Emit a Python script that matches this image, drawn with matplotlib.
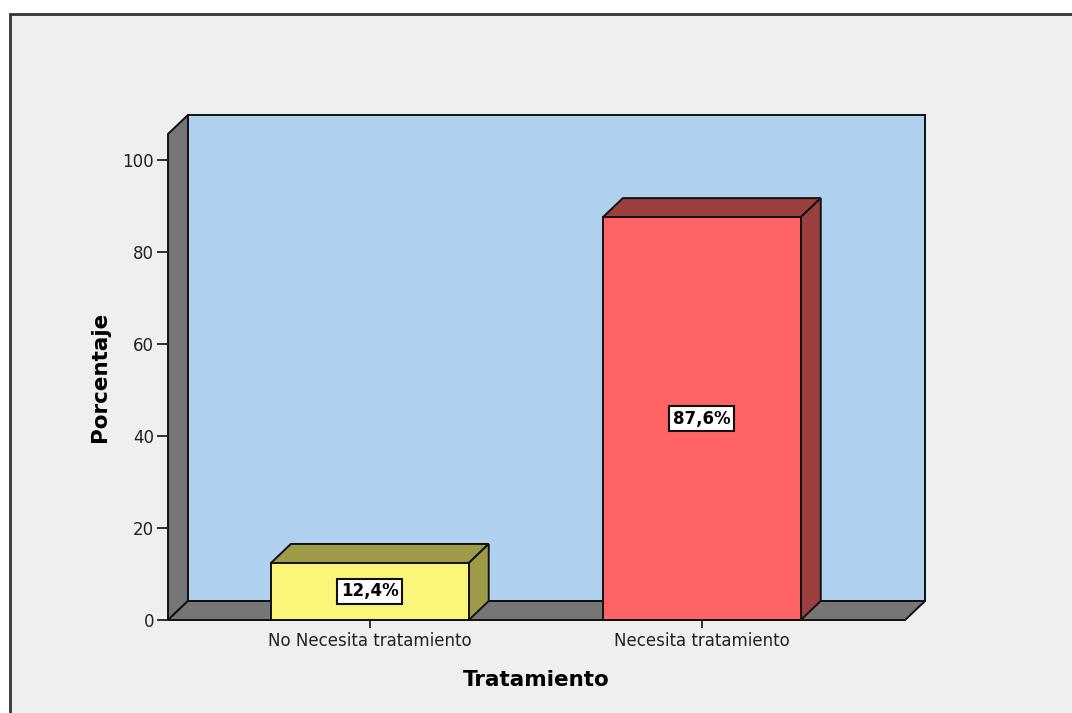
import matplotlib
matplotlib.use("Agg")
import matplotlib.pyplot as plt
from matplotlib.patches import Polygon, Rectangle

# Data
categories = ["No Necesita tratamiento", "Necesita tratamiento"]
percentages = [12.4, 87.6]
value_labels = ["12,4%", "87,6%"]
y_ticks = [0, 20, 40, 60, 80, 100]

# Colors
front_colors = ["#faf679", "#ff6464"]
shade_colors = ["#9d9a48", "#9c3f3f"]
wall_color = "#afd0ee"
side_wall_color = "#767676"
panel_color = "#efefef"

W, H = 1072, 713
fig = plt.figure(figsize=(W / 100, H / 100), dpi=100)
fig.patch.set_facecolor("white")

# outer gray panel with dark border
fig.patches.append(Rectangle((10 / W, -0.05), 1.2, 1.05 - 14 / H, transform=fig.transFigure,
                             facecolor=panel_color, edgecolor="#333333", lw=2, zorder=-10))

ax = fig.add_axes([168 / W, 93 / H, (925 - 168) / W, (620 - 115) / H])
ax.set_facecolor("none")
ax.set_zorder(5)

# pseudo-3d geometry
x0, x1 = -0.608, 1.672
ymax = 109.8
dx, dy = 0.060, 4.13
bar_w = 0.596
ax.set_xlim(x0, x1)
ax.set_ylim(0, ymax)

edge = dict(edgecolor="#111111", lw=1.4, clip_on=False)

# back wall, left wall, floor
ax.add_patch(Rectangle((x0 + dx, dy), x1 - x0 - dx, ymax - dy, facecolor=wall_color, zorder=1, **edge))
ax.add_patch(Polygon([(x0, 0), (x0, ymax - dy), (x0 + dx, ymax), (x0 + dx, dy)],
                     facecolor=side_wall_color, zorder=1, **edge))
ax.add_patch(Polygon([(x0, 0), (x0 + dx, dy), (x1, dy), (x1 - dx, 0)],
                     facecolor=side_wall_color, zorder=1, **edge))

# bars
for i, v in enumerate(percentages):
    l, r = i - bar_w / 2, i + bar_w / 2
    ax.add_patch(Polygon([(l, v), (l + dx, v + dy), (r + dx, v + dy), (r, v)],
                         facecolor=shade_colors[i], zorder=3, **edge))
    ax.add_patch(Polygon([(r, 0), (r + dx, dy), (r + dx, v + dy), (r, v)],
                         facecolor=shade_colors[i], zorder=3, **edge))
    ax.add_patch(Rectangle((l, 0), bar_w, v, facecolor=front_colors[i], zorder=4, **edge))
    ax.text(i, v / 2, value_labels[i], ha="center", va="center", fontsize=12,
            fontweight="bold", zorder=5,
            bbox=dict(boxstyle="square,pad=0.22", facecolor="white", edgecolor="#111111", lw=1.5))

for s in ax.spines.values():
    s.set_visible(False)

ax.set_yticks(y_ticks)
ax.set_xticks(range(len(categories)))
ax.set_xticklabels(categories)
ax.tick_params(axis="y", direction="out", length=8, width=1.3, labelsize=12, colors="#222222", pad=2)
ax.tick_params(axis="x", direction="out", length=6, width=1.3, labelsize=12, colors="#222222", pad=3)

fig.text(100 / W, 1 - 377 / H, "Porcentaje", rotation=90, ha="center", va="center",
         fontsize=15.5, fontweight="bold")
fig.text(536 / W, 1 - 680 / H, "Tratamiento", ha="center", va="center",
         fontsize=15.5, fontweight="bold")

fig.savefig("out.png", dpi=100)
